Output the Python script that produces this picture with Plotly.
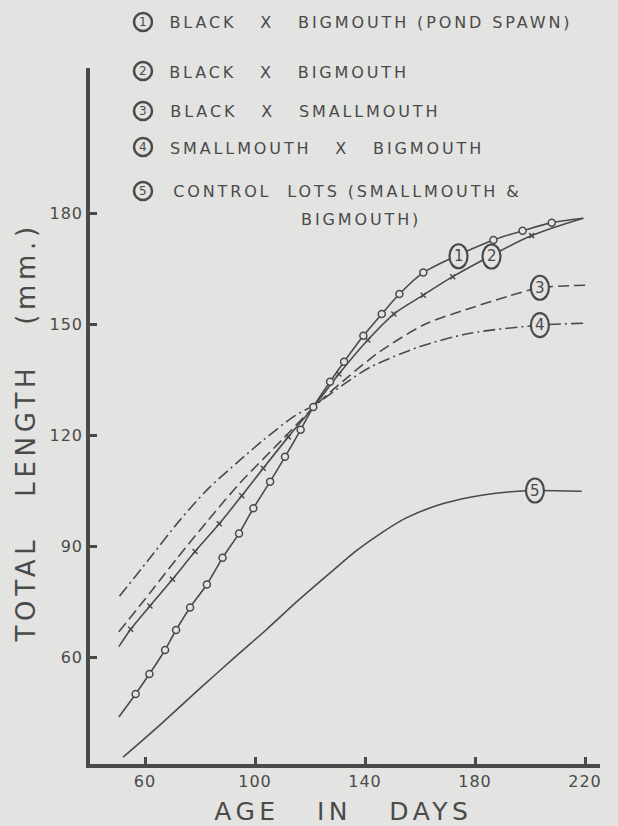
import numpy as np
import plotly.graph_objects as go

# growth curves (age in days, total length in mm)
C1_DAYS = [50.5, 56.6, 61.6, 67.3, 71.3, 76.4, 82.5, 88.2, 94.2, 99.4, 105.5, 110.9, 116.6, 121.2,
           127.3, 132.4, 139.4, 146.1, 152.5, 161.2, 186.7, 197.3, 207.9, 219.4]
C1_LEN = [43.8, 50.0, 55.4, 61.9, 67.3, 73.4, 79.6, 86.8, 93.4, 100.2, 107.4, 114.1, 121.4, 127.6,
          134.4, 139.8, 146.8, 152.7, 158.1, 163.9, 172.7, 175.2, 177.4, 178.6]

C2_DAYS = [50.5, 54.8, 61.8, 70.0, 78.2, 87.0, 95.2, 103.0, 112.1, 121.5, 130.5, 141.0, 150.5,
           161.2, 171.9, 200.6, 219.4]
C2_LEN = [62.8, 67.5, 73.8, 81.0, 88.5, 96.0, 103.6, 111.0, 119.5, 127.8, 136.5, 145.7, 152.7,
          157.8, 162.8, 173.9, 178.6]

C3_DAYS = [50.5, 62.0, 72.0, 83.0, 94.5, 109.7, 122.0, 133.0, 145.5, 162.0, 178.0, 192.0, 203.6, 220.6]
C3_LEN = [66.8, 77.5, 87.0, 97.0, 107.0, 118.6, 128.0, 135.2, 142.6, 150.0, 154.2, 157.5, 159.8, 160.5]

C4_DAYS = [50.7, 61.0, 72.7, 83.0, 94.5, 103.0, 113.9, 122.0, 132.1, 141.8, 160.0, 178.2, 203.6, 219.4]
C4_LEN = [76.4, 86.0, 97.0, 105.5, 113.2, 118.6, 124.9, 128.3, 133.6, 138.3, 143.9, 147.5, 149.7, 150.2]

C5_DAYS = [52.0, 66.0, 80.0, 92.0, 104.0, 116.0, 128.5, 137.0, 146.7, 155.0, 164.8, 175.0, 183.0,
           192.0, 201.8, 218.8]
C5_LEN = [32.9, 42.0, 51.5, 59.5, 67.3, 75.5, 83.5, 88.8, 93.9, 97.6, 100.6, 102.7, 103.8,
          104.6, 105.0, 104.8]

LABEL_DAYS = [174.0, 186.0, 203.6, 203.6, 201.8]

LEGEND = ["BLACK\u00a0\u00a0\u00a0X\u00a0\u00a0\u00a0BIGMOUTH\u00a0(POND\u00a0SPAWN)",
          "BLACK\u00a0\u00a0\u00a0X\u00a0\u00a0\u00a0BIGMOUTH",
          "BLACK\u00a0\u00a0\u00a0X\u00a0\u00a0\u00a0SMALLMOUTH",
          "SMALLMOUTH\u00a0\u00a0\u00a0X\u00a0\u00a0\u00a0BIGMOUTH",
          "CONTROL\u00a0\u00a0LOTS\u00a0(SMALLMOUTH\u00a0&",
          "BIGMOUTH)"]

X_TICKS = [60, 100, 140, 180, 220]
Y_TICKS = [60, 90, 120, 150, 180]

BG = "#e3e3e1"
INK = "#4a4a4a"
W, H = 618, 826
L, R, T, B = 90, 18, 68, 62


def px(x):
    return (x - L) / (W - L - R)


def py(y):
    return (H - B - y) / (H - T - B)


fig = go.Figure()
line = dict(color=INK, width=1.6, shape="spline", smoothing=0.8)
fig.add_trace(go.Scatter(x=C5_DAYS, y=C5_LEN, mode="lines", line=line))
fig.add_trace(go.Scatter(x=C4_DAYS, y=C4_LEN, mode="lines", line=dict(line, dash="12px,4px,2px,4px")))
fig.add_trace(go.Scatter(x=C3_DAYS, y=C3_LEN, mode="lines", line=dict(line, dash="11px,5px")))
fig.add_trace(go.Scatter(x=C2_DAYS, y=C2_LEN, mode="lines", line=line))
fig.add_trace(go.Scatter(x=C2_DAYS[1:-1], y=C2_LEN[1:-1], mode="markers",
                         marker=dict(symbol="x-thin", size=5, line=dict(color=INK, width=1.5))))
fig.add_trace(go.Scatter(x=C1_DAYS, y=C1_LEN, mode="lines", line=line))
fig.add_trace(go.Scatter(x=C1_DAYS[1:-1], y=C1_LEN[1:-1], mode="markers",
                         marker=dict(symbol="circle", size=7, color=BG, line=dict(color=INK, width=1.5))))

# circled curve numbers sitting on the lines
curves = [(C1_DAYS, C1_LEN), (C2_DAYS, C2_LEN), (C3_DAYS, C3_LEN), (C4_DAYS, C4_LEN), (C5_DAYS, C5_LEN)]
for i, (d, ln) in enumerate(curves):
    lx = LABEL_DAYS[i]
    ly = float(np.interp(lx, d, ln))
    fig.add_shape(type="circle", xref="x", yref="y", xsizemode="pixel", ysizemode="pixel",
                  xanchor=lx, yanchor=ly, x0=-9, x1=9, y0=-12, y1=12,
                  fillcolor=BG, line=dict(color=INK, width=2.2))
    fig.add_annotation(x=lx, y=ly, text=str(i + 1), showarrow=False, xanchor="center",
                       yanchor="middle", font=dict(size=15, color=INK))

# legend block at the top (pixel rows / text centres measured on the scan)
rows_y = [22, 71, 111, 147, 191, 218]
text_cx = [371, 289, 305, 327, 347, 361]
for i, txt in enumerate(LEGEND):
    if i < 5:
        fig.add_shape(type="circle", xref="paper", yref="paper", xsizemode="pixel",
                      ysizemode="pixel", xanchor=px(143), yanchor=py(rows_y[i]),
                      x0=-9, x1=9, y0=-9, y1=9, fillcolor=BG, line=dict(color=INK, width=2.5))
        fig.add_annotation(x=px(143), y=py(rows_y[i]), xref="paper", yref="paper",
                           text=str(i + 1), showarrow=False, xanchor="center", yanchor="middle",
                           font=dict(size=12, color=INK))
    fig.add_annotation(x=px(text_cx[i]), y=py(rows_y[i] + 1), xref="paper", yref="paper",
                       text=txt, xanchor="center", yanchor="middle", showarrow=False,
                       font=dict(size=16, color=INK))

# axis titles
fig.add_annotation(x=px(343), y=py(812), xref="paper", yref="paper", xanchor="center",
                   yanchor="middle", text="AGE\u00a0\u00a0\u00a0IN\u00a0\u00a0\u00a0DAYS",
                   showarrow=False, font=dict(size=25, color=INK))
fig.add_annotation(x=px(26), y=py(433), xref="paper", yref="paper", textangle=-90,
                   xanchor="center", yanchor="middle",
                   text="TOTAL\u00a0\u00a0\u00a0LENGTH\u00a0\u00a0\u00a0(mm.)", showarrow=False,
                   font=dict(size=26, color=INK))

axis = dict(ticks="inside", ticklen=7, tickwidth=3, tickcolor=INK, showline=True, linewidth=3.5,
            linecolor=INK, showgrid=False, zeroline=False, tickfont=dict(size=16, color=INK))
fig.update_xaxes(axis, range=[40, 225.45], tickvals=X_TICKS)
fig.update_yaxes(axis, range=[31.08, 219.2], tickvals=Y_TICKS)
fig.update_layout(width=W, height=H, margin=dict(l=L, r=R, t=T, b=B), showlegend=False,
                  paper_bgcolor=BG, plot_bgcolor=BG, font=dict(family="DejaVu Sans", color=INK))

# the original lettering is widely spaced; also drop the page margin
spacing = """
document.body.style.margin = '0';
var gd = document.getElementById('{plot_id}');
gd.querySelectorAll('.annotation-text').forEach(function (t) {
  if (t.textContent.length > 1) {
    t.style.letterSpacing = (parseFloat(t.style.fontSize) * 0.18) + 'px';
  }
});
gd.querySelectorAll('.xtick text, .ytick text').forEach(function (t) {
  t.style.letterSpacing = '1px';
});
"""
fig.write_html("out.html", post_script=spacing, config={"displayModeBar": False})
